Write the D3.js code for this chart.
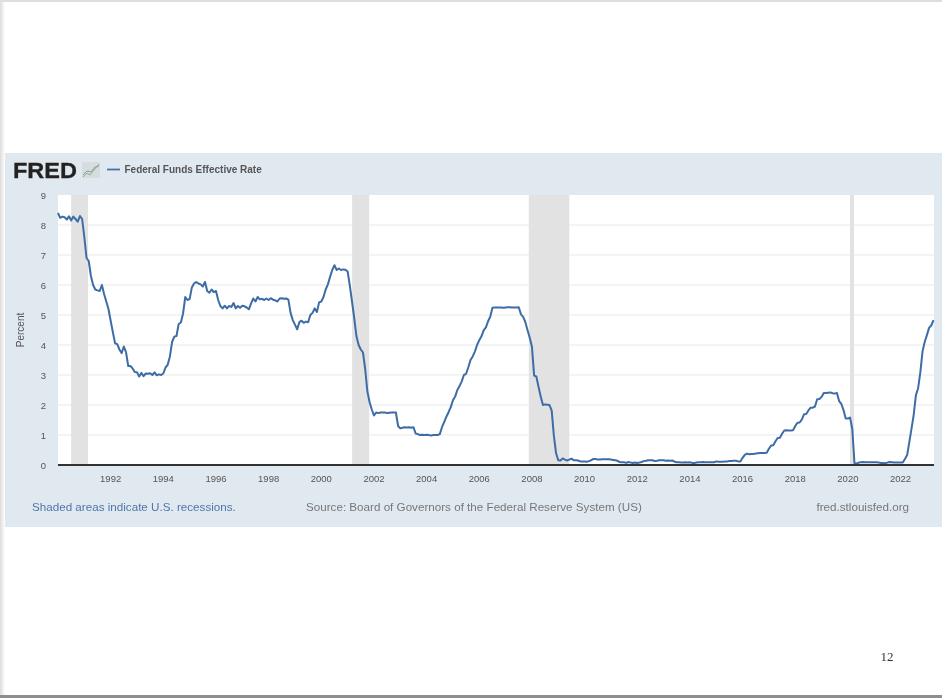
<!DOCTYPE html>
<html><head><meta charset="utf-8">
<script src="https://cdn.jsdelivr.net/npm/d3@7"></script>
<style>html,body{margin:0;padding:0;background:#fff;overflow:hidden}svg{display:block}text{font-family:"Liberation Sans",Arial,sans-serif}</style>
</head><body><svg id="c" width="942" height="698"></svg>
<script>
const startYear = 1990;
const rates1990s = [8.4,8.24,8.28,8.26,8.18,8.29,8.15,8.28,8.20,8.11,8.3,8.2,
 7.6,6.9,6.8,6.3,6.0,5.85,5.82,5.8,6.0,5.7,5.45,5.2,
 4.81,4.43,4.06,4.03,3.85,3.73,3.95,3.76,3.3,3.3,3.22,3.1,
 3.09,2.95,3.07,2.96,3.05,3.04,3.06,3.0,3.09,2.99,3.02,3.0,
 3.05,3.25,3.34,3.62,4.1,4.28,4.3,4.7,4.75,5.05,5.6,5.5,
 5.53,5.92,6.05,6.1,6.05,6.02,5.95,6.1,5.8,5.74,5.85,5.76,
 5.8,5.5,5.3,5.22,5.31,5.22,5.3,5.27,5.4,5.22,5.3,5.24,
 5.31,5.29,5.25,5.19,5.39,5.55,5.45,5.6,5.52,5.54,5.5,5.55,
 5.5,5.56,5.51,5.49,5.45,5.55,5.56,5.54,5.55,5.51,5.07,4.83,
 4.68,4.52,4.76,4.81,4.74,4.78,4.76,5.0,5.07,5.22,5.1,5.42];
const rates2000s = [5.45,5.6,5.85,6.02,6.27,6.5,6.66,6.5,6.55,6.5,6.52,6.51,
 6.45,5.98,5.45,4.9,4.3,4.0,3.85,3.75,3.2,2.45,2.1,1.85,
 1.65,1.75,1.73,1.75,1.75,1.75,1.73,1.74,1.75,1.75,1.75,1.3,
 1.22,1.24,1.26,1.25,1.26,1.24,1.26,1.05,1.03,1.0,1.01,1.0,
 1.01,1.0,0.98,1.0,1.0,1.0,1.03,1.26,1.43,1.61,1.76,1.93,
 2.16,2.28,2.5,2.63,2.79,3.0,3.04,3.26,3.5,3.62,3.78,4.0,
 4.16,4.29,4.49,4.59,4.79,4.94,5.24,5.25,5.25,5.25,5.25,5.24,
 5.25,5.26,5.26,5.25,5.25,5.25,5.26,5.02,4.94,4.76,4.49,4.24,
 3.94,2.98,2.95,2.61,2.28,2.0,2.02,2.01,2.0,1.81,0.97,0.39,
 0.16,0.15,0.22,0.18,0.15,0.18,0.21,0.16,0.16,0.15,0.12,0.12];
const rates2010s = [0.12,0.11,0.13,0.16,0.2,0.2,0.18,0.18,0.19,0.19,0.19,0.19,
 0.18,0.17,0.16,0.14,0.1,0.09,0.09,0.07,0.1,0.08,0.07,0.08,
 0.07,0.08,0.1,0.13,0.14,0.16,0.16,0.16,0.13,0.14,0.16,0.16,
 0.16,0.14,0.15,0.14,0.15,0.11,0.09,0.09,0.08,0.08,0.09,0.08,
 0.09,0.07,0.07,0.08,0.09,0.09,0.1,0.09,0.09,0.09,0.09,0.09,
 0.12,0.11,0.11,0.11,0.12,0.12,0.13,0.13,0.14,0.14,0.12,0.12,
 0.24,0.34,0.38,0.36,0.37,0.37,0.38,0.39,0.4,0.4,0.4,0.41,
 0.54,0.65,0.66,0.79,0.9,0.91,1.04,1.15,1.16,1.15,1.15,1.16,
 1.3,1.41,1.42,1.51,1.69,1.7,1.82,1.91,1.91,1.95,2.19,2.2,
 2.27,2.4,2.4,2.41,2.42,2.39,2.38,2.4,2.13,2.04,1.83,1.55];
const rates2020s = [1.55,1.58,1.2,0.06,0.05,0.08,0.09,0.1,0.09,0.09,0.09,0.09,
 0.09,0.09,0.08,0.07,0.07,0.06,0.08,0.1,0.09,0.08,0.08,0.08,
 0.08,0.08,0.2,0.33,0.77,1.21,1.68,2.33,2.56,3.08,3.78,4.1,
 4.33,4.57,4.65,4.83];
const rates = [...rates1990s, ...rates2000s, ...rates2010s, ...rates2020s];
const recessions = [[1990.5,1991.14],[2001.17,2001.82],[2007.88,2009.42],[2020.08,2020.23]];
const yTicks = [0,1,2,3,4,5,6,7,8,9];
const xTicks = d3.range(1992,2024,2);
const seriesName = "Federal Funds Effective Rate";
const axisTitle = "Percent";
const noteText = "Shaded areas indicate U.S. recessions.";
const sourceText = "Source: Board of Governors of the Federal Reserve System (US)";
const siteText = "fred.stlouisfed.org";
const pageNumber = "12";

const svg = d3.select("#c");
const defs = svg.append("defs");
const soft = defs.append("filter").attr("id","soft").attr("x","-2%").attr("y","-2%").attr("width","104%").attr("height","104%");
soft.append("feGaussianBlur").attr("stdDeviation",0.45);
const g1 = defs.append("linearGradient").attr("id","shadowL");
g1.append("stop").attr("offset",0).attr("stop-color","#dcdcdc");
g1.append("stop").attr("offset",1).attr("stop-color","#ffffff");

svg.append("rect").attr("width",5).attr("height",698).attr("fill","url(#shadowL)");
svg.append("rect").attr("width",942).attr("height",2).attr("fill","#dedede");
svg.append("rect").attr("y",695).attr("width",942).attr("height",3).attr("fill","#8e8e8e");

const root = svg.append("g").attr("filter","url(#soft)");
root.append("rect").attr("x",5).attr("y",153).attr("width",937).attr("height",374).attr("fill","#e1e9f0");

const x = d3.scaleLinear().domain([1990,2023.27]).range([58,934]);
const y = d3.scaleLinear().domain([0,9]).range([465,195]);

root.append("rect").attr("x",58).attr("y",195).attr("width",876).attr("height",270).attr("fill","#fff");
root.append("g").selectAll("line").data(yTicks.filter(d=>d>0&&d<9)).join("line")
 .attr("x1",58).attr("x2",934).attr("y1",d=>y(d)).attr("y2",d=>y(d)).attr("stroke","#e9e9e9").attr("stroke-width",1);
root.append("g").selectAll("rect").data(recessions).join("rect")
 .attr("x",d=>x(d[0])).attr("width",d=>x(d[1])-x(d[0])).attr("y",195).attr("height",270).attr("fill","#e2e2e2");

const line = d3.line().x((d,i)=>x(startYear+i/12)).y(d=>y(d)).curve(d3.curveLinear);
root.append("path").attr("d",line(rates)).attr("fill","none").attr("stroke","#3d6ca6").attr("stroke-width",2).attr("stroke-linejoin","round");
root.append("line").attr("x1",58).attr("x2",934).attr("y1",y(0)).attr("y2",y(0)).attr("stroke","#333").attr("stroke-width",2);

root.append("g").selectAll("text").data(yTicks).join("text")
 .attr("x",46).attr("y",d=>y(d)+3.5).attr("text-anchor","end").attr("font-size",9.5).attr("fill","#555").text(d=>d);
root.append("g").selectAll("text").data(xTicks).join("text")
 .attr("x",d=>x(d)).attr("y",482).attr("text-anchor","middle").attr("font-size",9.5).attr("fill","#555").text(d=>d);
root.append("text").attr("transform","translate(24,330) rotate(-90)").attr("text-anchor","middle").attr("font-size",10).attr("fill","#555").text(axisTitle);

root.append("text").attr("x",13).attr("y",177.5).attr("font-size",22.5).attr("font-weight","bold").attr("fill","#222").attr("stroke","#222").attr("stroke-width",0.3).attr("textLength",64).attr("lengthAdjust","spacingAndGlyphs").text("FRED");
root.append("rect").attr("x",82).attr("y",162).attr("width",18).attr("height",16).attr("fill","#d7dcdc");
const iconA=[[83,177],[87,173],[90,175],[94,170],[99,164]], iconB=[[83,175],[87,171],[91,172],[95,167],[99,166]];
const iconLine=d3.line();
root.append("path").attr("d",iconLine(iconA)).attr("fill","none").attr("stroke","#93b07a").attr("stroke-width",1);
root.append("path").attr("d",iconLine(iconB)).attr("fill","none").attr("stroke","#7f9cc0").attr("stroke-width",1);
root.append("line").attr("x1",107).attr("x2",120).attr("y1",169.5).attr("y2",169.5).attr("stroke","#4572a7").attr("stroke-width",1.8);
root.append("text").attr("x",124.5).attr("y",173).attr("font-size",10).attr("font-weight","bold").attr("fill","#555").text(seriesName);

root.append("text").attr("x",32).attr("y",511).attr("font-size",11.65).attr("fill","#4f75ab").text(noteText);
root.append("text").attr("x",306).attr("y",511).attr("font-size",11.65).attr("fill","#777").text(sourceText);
root.append("text").attr("x",909).attr("y",511).attr("text-anchor","end").attr("font-size",11.65).attr("fill","#777").text(siteText);
root.append("text").attr("x",887).attr("y",661).attr("text-anchor","middle").attr("font-size",13).attr("fill","#333").style("font-family","'Liberation Serif',serif").text(pageNumber);
</script></body></html>
